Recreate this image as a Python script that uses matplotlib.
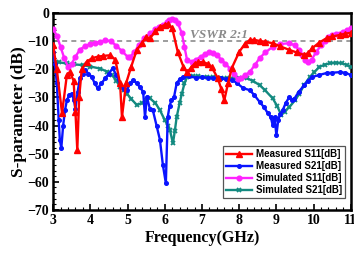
import matplotlib
matplotlib.use("Agg")
import matplotlib.pyplot as plt
from matplotlib.ticker import MultipleLocator

# Measured S11
f_ms11 = [3.0, 3.1, 3.24, 3.37, 3.45, 3.55, 3.6, 3.65, 3.7, 3.77, 3.9, 4.05, 4.2, 4.35, 4.53, 4.67, 4.8, 4.85, 4.96,
          5.1, 5.25, 5.4, 5.5, 5.6, 5.75, 5.87, 6.0, 6.08, 6.2, 6.35, 6.5, 6.6, 6.7, 6.8, 6.9, 7.02, 7.15, 7.26, 7.42,
          7.52, 7.6, 7.7, 7.8, 8.0, 8.15, 8.28, 8.4, 8.55, 8.7, 8.9, 9.1, 9.35, 9.55, 9.75, 9.85, 9.97, 10.15, 10.35,
          10.5, 10.7, 10.85, 11.0]
v_ms11 = [-11.4, -20, -35.6, -22, -21, -24, -35, -48.7, -30, -20, -17.3, -16, -15.5, -15.2, -15, -16.5, -25, -37, -25,
          -19, -13, -10.5, -8.5, -9, -6.5, -4.9, -4.2, -3.9, -5.3, -13.8, -19, -21, -19.5, -18, -17.5, -17.4, -18, -19.2,
          -23, -27, -31, -25, -19.6, -13.8, -11, -9.6, -9.5, -9.9, -10.2, -10.7, -11.8, -13.1, -14, -14.9, -14.2, -12.4,
          -10.5, -8.9, -8.3, -7.8, -7.3, -7.0]

# Measured S21
f_ms21 = [3.0, 3.05, 3.1, 3.15, 3.18, 3.22, 3.27, 3.32, 3.37, 3.44, 3.5, 3.56, 3.6, 3.66, 3.72, 3.8, 3.86, 3.95, 4.04,
          4.12, 4.2, 4.3, 4.4, 4.5, 4.6, 4.7, 4.8, 4.9, 4.98, 5.07, 5.15, 5.25, 5.33, 5.42, 5.47, 5.52, 5.6, 5.68, 5.78,
          5.87, 5.95, 6.03, 6.08, 6.13, 6.18, 6.25, 6.32, 6.4, 6.5, 6.65, 6.85, 7.0, 7.15, 7.3, 7.5, 7.65, 7.82, 7.95,
          8.1, 8.28, 8.4, 8.55, 8.67, 8.77, 8.85, 8.9, 8.95, 9.0, 9.05, 9.1, 9.17, 9.25, 9.35, 9.42, 9.48, 9.6, 9.75,
          9.85, 9.97, 10.15, 10.35, 10.5, 10.7, 10.85, 11.0]
v_ms21 = [-13.9, -18, -25, -38, -45, -48, -40, -34.5, -31, -29, -28.6, -31, -34, -28, -23, -21.5, -20.3, -21.5, -22.7,
          -25, -26.7, -25, -23.2, -21.5, -19.6, -22, -25.6, -27, -27.4, -25, -23.8, -25, -26.3, -28, -37, -29.8, -34,
          -34.5, -40, -45, -54, -60.5, -37, -33, -31, -29.8, -25, -23.5, -22.7, -22.5, -23, -22.8, -23, -23, -23.2,
          -23.5, -23.8, -25, -26.6, -27.4, -29, -31.6, -33.5, -35.6, -37, -39.8, -37, -43.4, -38, -36, -34.5, -32,
          -29.8, -31, -30.5, -28, -25.6, -24, -22.7, -22, -21.3, -21.2, -21, -21.2, -22]

# Simulated S11
f_ss11 = [3.0, 3.1, 3.2, 3.3, 3.4, 3.5, 3.6, 3.72, 3.85, 4.0, 4.13, 4.26, 4.4, 4.55, 4.7, 4.85, 5.0, 5.06, 5.18, 5.3,
          5.45, 5.6, 5.75, 5.85, 5.95, 6.05, 6.12, 6.19, 6.27, 6.35, 6.46, 6.53, 6.6, 6.73, 6.85, 6.97, 7.08, 7.2, 7.3,
          7.4, 7.52, 7.63, 7.75, 7.85, 7.96, 8.06, 8.17, 8.28, 8.42, 8.55, 8.7, 8.9, 9.1, 9.35, 9.5, 9.6, 9.7, 9.78,
          9.85, 9.95, 10.07, 10.2, 10.3, 10.4, 10.5, 10.6, 10.78, 10.9, 11.0]
v_ss11 = [-5.7, -8, -12, -16, -19, -18, -15.5, -13, -11.8, -11, -10.5, -10.3, -9.6, -10, -11.6, -13.5, -15.5, -15.6,
          -14, -11.4, -9, -7.2, -5.8, -5, -4.3, -3.3, -2.5, -2.1, -2.5, -3.5, -7.2, -12, -16.7, -17.3, -16.5, -15.5,
          -14.6, -13.8, -14.2, -15, -16.5, -18, -19.7, -21.5, -23.6, -23, -22, -21, -18.5, -16, -14, -12, -11, -10.7,
          -11.5, -13, -15, -16.5, -17.3, -16.5, -13.8, -11.5, -10, -8.5, -7.8, -7.3, -6.7, -6.0, -5.4]

# Simulated S21
f_ss21 = [3.0, 3.15, 3.37, 3.55, 3.8, 4.0, 4.26, 4.45, 4.58, 4.7, 4.8, 4.9, 4.98, 5.1, 5.25, 5.38, 5.5, 5.6, 5.75,
          5.87, 6.0, 6.08, 6.14, 6.22, 6.27, 6.32, 6.4, 6.46, 6.53, 6.6, 6.75, 6.9, 7.13, 7.3, 7.5, 7.66, 7.85, 8.0,
          8.2, 8.38, 8.55, 8.7, 8.9, 9.02, 9.13, 9.22, 9.35, 9.5, 9.62, 9.75, 9.9, 10.02, 10.15, 10.3, 10.45, 10.6,
          10.75, 10.9, 11.0]
v_ss21 = [-16.8, -17.5, -17.9, -18.2, -18.5, -19, -19.7, -20.8, -22, -24, -26.3, -27.5, -28.6, -30.5, -32.7, -32,
          -31, -30.3, -32, -34.5, -38, -40, -41.6, -46.3, -42, -37, -32, -28.6, -25, -22.7, -22.5, -22.5, -22.7,
          -22.8, -23, -23.1, -23.1, -23.1, -23.1, -24.2, -25.6, -27.5, -30.3, -33, -36.2, -35, -33.4, -31, -28.6,
          -25.5, -22.7, -21, -19.2, -18.3, -17.8, -17.6, -17.8, -18.5, -19.2]

series_labels = ["Measured S11[dB]", "Measured S21[dB]", "Simulated S11[dB]", "Simulated S21[dB]"]
x_ticks = [3, 4, 5, 6, 7, 8, 9, 10, 11]
y_ticks = [-70, -60, -50, -40, -30, -20, -10, 0]
vswr_level = -10

fig = plt.figure(figsize=(3.54, 2.57), dpi=100)
ax = fig.add_axes([0.150, 0.183, 0.841, 0.766])

lw = 1.7
ms = 3.4
ax.plot(f_ss21, v_ss21, color="#138a80", marker="x", ms=ms, mew=1.3, lw=lw, label=series_labels[3], zorder=3)
ax.plot(f_ms21, v_ms21, color="#0a14ff", marker="o", ms=2.6, lw=lw, label=series_labels[1], zorder=4)
ax.plot(f_ss11, v_ss11, color="#ff22ff", marker="o", ms=ms, lw=lw, label=series_labels[2], zorder=5)
ax.plot(f_ms11, v_ms11, color="#ff0000", marker="^", ms=ms + 0.8, lw=lw, label=series_labels[0], zorder=6)

ax.axhline(vswr_level, color="#8c8c8c", ls=(0, (3, 2.5)), lw=1.2, zorder=2)
ax.text(6.67, -8.8, "VSWR 2:1", fontsize=9.5, style="italic", color="#8a8a8a",
        family="Liberation Serif", fontweight="bold")

ax.set_xlim(3, 11)
ax.set_ylim(-70, 0)
ax.set_xticks(x_ticks)
ax.set_yticks(y_ticks)
ax.xaxis.set_minor_locator(MultipleLocator(0.2))
ax.yaxis.set_minor_locator(MultipleLocator(2))
ax.tick_params(which="both", direction="in", top=False, right=False)
ax.tick_params(which="major", length=4, width=1.2, pad=3)
ax.tick_params(which="minor", length=2, width=0.8)
for lab in ax.get_xticklabels() + ax.get_yticklabels():
    lab.set_family("Liberation Serif")
    lab.set_fontweight("bold")
    lab.set_fontsize(10)
for s in ax.spines.values():
    s.set_linewidth(1.8)

ax.set_xlabel("Frequency(GHz)", family="Liberation Serif", fontweight="bold", fontsize=11.5, labelpad=2)
ax.set_ylabel("S-parameter (dB)", family="Liberation Serif", fontweight="bold", fontsize=12.5, labelpad=0)

h, l = ax.get_legend_handles_labels()
order = [3, 1, 2, 0]
leg = ax.legend([h[i] for i in order], [l[i] for i in order], loc="lower right",
                prop={"family": "Liberation Sans", "weight": "bold", "size": 7},
                frameon=True, fancybox=False, edgecolor="#555555", framealpha=1,
                borderpad=0.3, labelspacing=0.2, handlelength=2.7, handletextpad=0.4,
                borderaxespad=0, bbox_to_anchor=(0.98, 0.06))
leg.get_frame().set_linewidth(0.9)

fig.savefig("out.png", dpi=100)
